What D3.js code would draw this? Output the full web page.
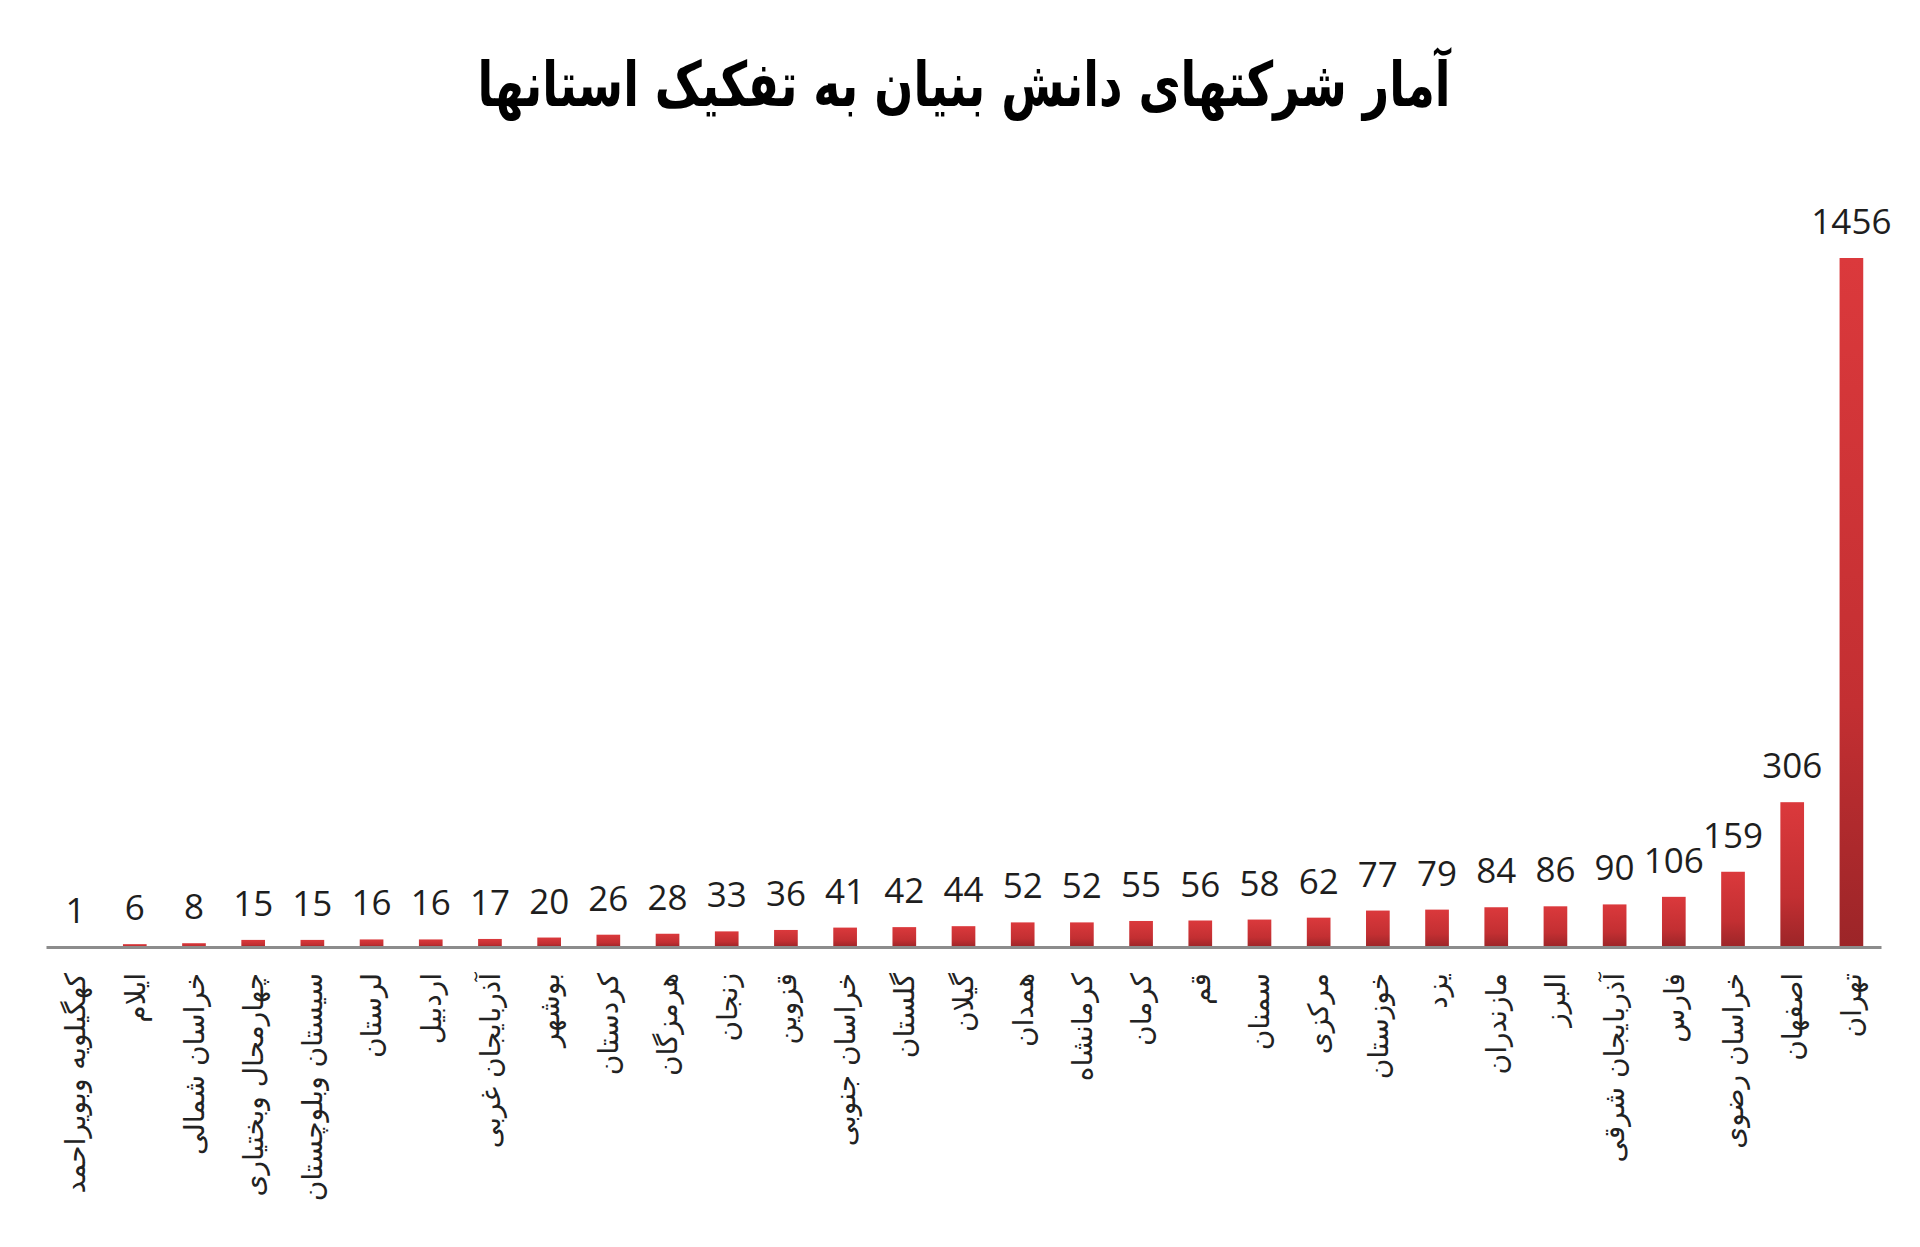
<!DOCTYPE html>
<html>
<head>
<meta charset="utf-8">
<script src="https://cdn.jsdelivr.net/npm/d3@7"></script>
<style>
  body { margin: 0; background: #fff; }
  svg { display: block; }
</style>
</head>
<body>
<div id="viz"></div>
<script>
const provinces = [
    'کهگیلویه وبویراحمد', 'ایلام', 'خراسان شمالی', 'چهارمحال وبختیاری', 'سیستان وبلوچستان',
    'لرستان', 'اردبیل', 'آذربایجان غربی', 'بوشهر', 'کردستان', 'هرمزگان', 'زنجان', 'قزوین',
    'خراسان جنوبی', 'گلستان', 'گیلان', 'همدان', 'کرمانشاه', 'کرمان', 'قم', 'سمنان', 'مرکزی',
    'خوزستان', 'یزد', 'مازندران', 'البرز', 'آذربایجان شرقی', 'فارس', 'خراسان رضوی', 'اصفهان', 'تهران'
];
const companies = [
    1, 6, 8, 15, 15, 16, 16, 17, 20, 26, 28, 33, 36, 41, 42, 44, 52, 52, 55, 56, 58, 62,
    77, 79, 84, 86, 90, 106, 159, 306, 1456
];
const chartTitle = 'آمار شرکتهای دانش بنیان به تفکیک استانها';

function buildChart(containerId) {
    const width = 1920;
    const height = 1247;

    const margin = {
        top: 258,
        bottom: 300,
        right: 39,
        left: 46
    }

    const innerWidth = width - margin.left - margin.right;
    const innerHeight = height - margin.top - margin.bottom;

    const svg = d3.select(containerId)
                    .append('svg')
                    .attr('height', height)
                    .attr('width', width);

    const defs = svg.append('defs');
    const grad = defs.append('linearGradient')
                     .attr('id', 'barFill')
                     .attr('x1', 0).attr('y1', 0)
                     .attr('x2', 0).attr('y2', 1);
    grad.append('stop').attr('offset', '0%').attr('stop-color', '#db393c');
    grad.append('stop').attr('offset', '65%').attr('stop-color', '#c32f32');
    grad.append('stop').attr('offset', '100%').attr('stop-color', '#9c2528');

    // title squeezed to the width of the condensed original face
    svg.append('text')
       .attr('x', 964)
       .attr('y', 106)
       .attr('text-anchor', 'middle')
       .attr('direction', 'rtl')
       .attr('textLength', 973)
       .attr('lengthAdjust', 'spacingAndGlyphs')
       .style('font-family', '"DejaVu Sans"')
       .style('font-weight', 'bold')
       .style('font-size', '62px')
       .attr('fill', '#000')
       .text(chartTitle);

    const g = svg.append('g')
                .attr('transform', 'translate(' + margin.left + ',' + margin.top + ')');

    const data = provinces.map((p, i) => ({ name: p, value: companies[i] }));

    const x = d3.scaleBand()
                .domain(provinces)
                .range([0, innerWidth])
                .paddingInner(0.6)
                .paddingOuter(0.3);

    const y = d3.scaleLinear()
                .domain([0, d3.max(companies)])
                .range([innerHeight, 0]);

    g.selectAll('.bar')
     .data(data)
     .enter()
     .append('rect')
     .attr('class', 'bar')
     .attr('x', d => x(d.name))
     .attr('y', d => y(d.value))
     .attr('width', x.bandwidth())
     .attr('height', d => innerHeight - y(d.value))
     .attr('fill', 'url(#barFill)');

    const xAxis = d3.axisBottom(x).tickSize(0).tickPadding(0);

    const axisG = g.append('g')
     .attr('class', 'x-axis')
     .attr('transform', 'translate(0,' + innerHeight + ')')
     .call(xAxis);

    axisG.select('.domain')
         .attr('stroke', '#8c8c8c')
         .attr('stroke-width', 3);

    axisG.selectAll('.tick text')
         .attr('transform', 'translate(0,26) rotate(-90)')
         .attr('x', 0)
         .attr('y', 0)
         .attr('dy', '0.35em')
         .attr('text-anchor', 'end')
         .style('font-family', '"DejaVu Sans"')
         .style('font-size', '28px')
         .attr('fill', '#222');

    g.selectAll('.value-label')
     .data(data)
     .enter()
     .append('text')
     .attr('class', 'value-label')
     .attr('x', d => x(d.name) + x.bandwidth() / 2)
     .attr('y', d => y(d.value) - 24)
     .attr('text-anchor', 'middle')
     .style('font-family', '"Open Sans"')
     .style('font-size', '35px')
     .attr('fill', '#1e1e1e')
     .text(d => d.value);
}

buildChart('#viz');
</script>
</body>
</html>
